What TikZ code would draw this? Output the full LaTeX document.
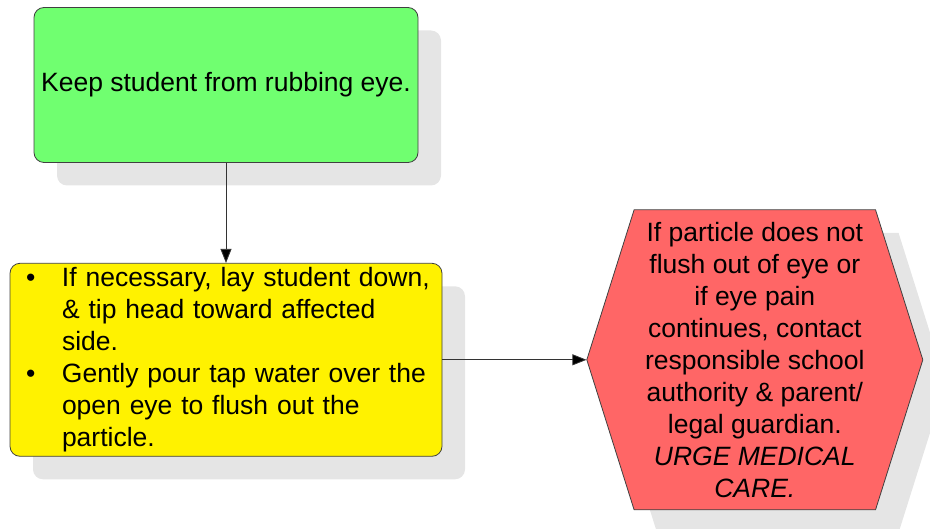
\documentclass[tikz,border=0pt]{standalone}
\usepackage{fontspec}
\setmainfont{Liberation Sans}
\usepackage{tikz}
\usetikzlibrary{positioning, shapes.symbols, shadows, arrows.meta}

\newcommand{\flushitem}[1]{\hangindent=45pt\hangafter=1\noindent\makebox[45pt][l]{\hspace{9pt}\textbullet}#1\par}

\begin{document}
\begin{tikzpicture}
		
		\tikzset{step box/.style={
				draw=black!75, line width=0.8pt,
				rounded corners=10pt,
				inner sep=4pt,
				font=\fontsize{26.5}{32}\selectfont,
				drop shadow={shadow xshift=23pt, shadow yshift=-23pt, fill=black!10, opacity=1}
			},
			alert hex/.style={
				draw=black!75, line width=0.8pt,
				signal, signal to=east and west, signal pointer angle=145,
				inner sep=2pt, align=center,
				font=\fontsize{26.5}{32}\selectfont,
				drop shadow={shadow xshift=23pt, shadow yshift=-23pt, fill=black!10, opacity=1}
			},
			flow arrow/.style={
				draw=black!80, line width=0.8pt,
				-{Triangle[length=14pt, width=11pt, fill=black]}
			}
		}
		\definecolor{keepgreen}{RGB}{112,255,112}
		\definecolor{alertred}{RGB}{255,102,102}
		
		\useasboundingbox (0pt,0pt) rectangle (930pt,-529pt);
		
		\node[step box, fill=keepgreen, minimum width=384pt, minimum height=155pt] (keep) at (226pt,-85pt)
			{Keep student from rubbing eye.};
		
		\node[step box, fill=yellow, minimum width=432pt, minimum height=193pt, text width=418pt, align=left, below=100pt of keep] (flush)
			{\flushitem{If necessary, lay student down,\newline \& tip head toward affected\newline side.}
			 \flushitem{Gently pour tap water over the\newline open eye to flush out the\newline particle.}};
		
		\node[alert hex, fill=alertred, minimum width=336pt, minimum height=300pt, right=144pt of flush] (care)
			{If particle does not\\ flush out of eye or\\ if eye pain\\ continues, contact\\ responsible school\\ authority \& parent/\\ legal guardian.\\ \textit{URGE MEDICAL}\\ \textit{CARE.}};
		
		\draw[flow arrow] (keep.south) -- (flush.north);
		\draw[flow arrow] (flush.east) -- (care.west);
		
\end{tikzpicture}
\end{document}
